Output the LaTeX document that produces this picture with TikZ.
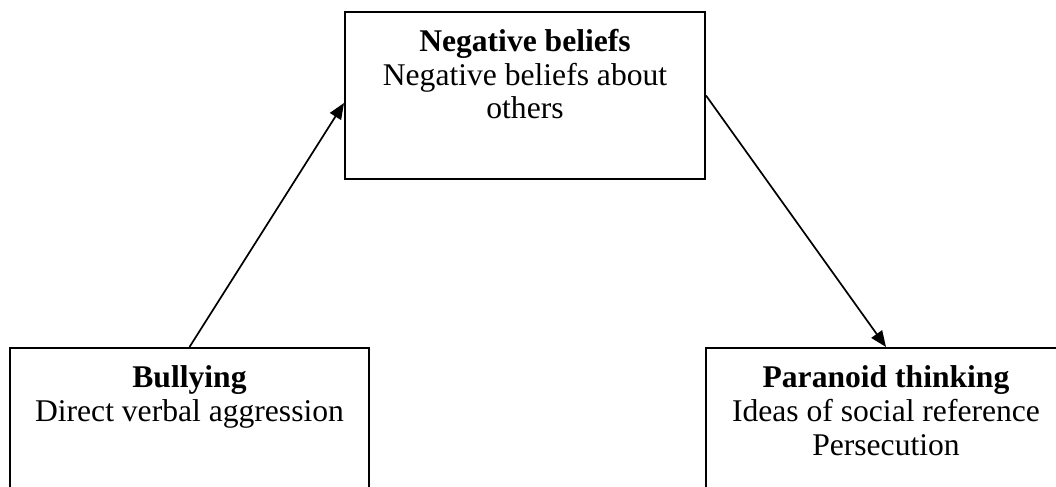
\documentclass[tikz,border=0pt]{standalone}
\usepackage{fontspec}
\setmainfont{Liberation Serif}
\usetikzlibrary{positioning,arrows.meta}

\begin{document}
\begin{tikzpicture}[x=0.5pt, y=-0.5pt,
    box/.style={draw, line width=1pt, minimum height=83.5pt, inner sep=0pt},
    boxtext/.style={align=center, inner sep=0pt, font=\fontsize{15.8}{16.9}\selectfont},
    link/.style={-{Triangle[length=8pt,width=6.5pt]}, line width=0.85pt}]
            \useasboundingbox (0,0) rectangle (1056,487);
            \clip (0,0) rectangle (1056,487);

            % Boxes
            \node[box, minimum width=180pt] (neg) at (525,95.5) {};
            \node[box, minimum width=179.5pt] (bully) at (189.5,431.5) {};
            \node[box, minimum width=180pt] (para) at (886,431.5) {};

            % Box texts
            \node[boxtext, below=6pt of neg.north] (negtxt) {\rule{0pt}{14pt}\textbf{Negative beliefs}\\Negative beliefs about\\others};
            \node[boxtext, below=6pt of bully.north] (bullytxt) {\rule{0pt}{14pt}\textbf{Bullying}\\Direct verbal aggression};
            \node[boxtext, below=6pt of para.north] (paratxt) {\rule{0pt}{14pt}\textbf{Paranoid thinking}\\Ideas of social reference\\Persecution};

            % Arrows
            \draw[link] (bully.north) -- ([yshift=-3.75pt]neg.west);
            \draw[link] (neg.east) -- (para.north);

        \end{tikzpicture}
\end{document}
